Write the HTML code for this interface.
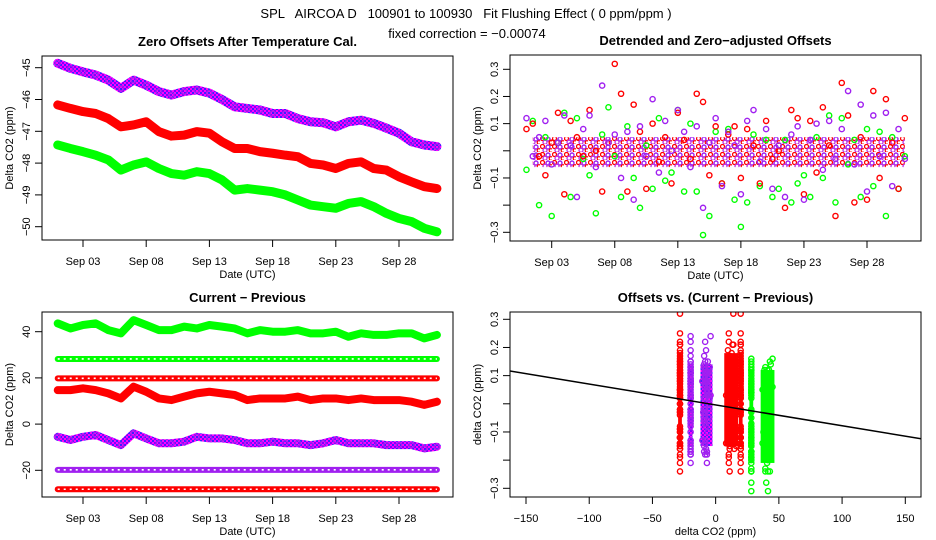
<!DOCTYPE html>
<html><head><meta charset="utf-8"><style>
html,body{margin:0;padding:0;background:#fff;}
svg{display:block;font-family:"Liberation Sans",sans-serif;}
</style></head><body>
<svg id="c" width="936" height="540" viewBox="0 0 936 540" xmlns="http://www.w3.org/2000/svg">
<defs>
<pattern id="pat-red" width="5" height="5" patternUnits="userSpaceOnUse"><rect width="5" height="5" fill="#fff"/><circle cx="2.5" cy="2.5" r="1.9" fill="none" stroke="#ff0000" stroke-width="1.3"/></pattern>
<pattern id="pat-green" width="5" height="5" patternUnits="userSpaceOnUse"><rect width="5" height="5" fill="#fff"/><circle cx="2.5" cy="2.5" r="1.9" fill="none" stroke="#00ff00" stroke-width="1.3"/></pattern>
<pattern id="pat-purple" width="4" height="4" patternUnits="userSpaceOnUse"><rect width="4" height="4" fill="#ff00ff"/><rect width="2" height="2" fill="#4020ff"/><rect x="2" y="2" width="2" height="2" fill="#8000ff"/></pattern>
<pattern id="pat-mix" width="12" height="8" patternUnits="userSpaceOnUse"><rect width="12" height="8" fill="#fff"/><circle cx="2.5" cy="2.5" r="2" fill="none" stroke="#ff0000" stroke-width="1.3"/><circle cx="8" cy="3" r="2" fill="none" stroke="#a020f0" stroke-width="1.4"/><circle cx="5" cy="6.2" r="2" fill="none" stroke="#c030e0" stroke-width="1.3"/><circle cx="11" cy="6.5" r="1.8" fill="none" stroke="#ff0000" stroke-width="1.2"/></pattern>
</defs>
<text x="466" y="18" font-size="13" text-anchor="middle" xml:space="preserve">SPL   AIRCOA D   100901 to 100930   Fit Flushing Effect ( 0 ppm/ppm )</text>
<text x="467" y="38" font-size="13" text-anchor="middle">fixed correction = −0.00074</text>
</svg>
<script>
// ---------- data ----------
const days = [1,2,3,4,5,6,7,8,9,10,11,12,13,14,15,16,17,18,19,20,21,22,23,24,25,26,27,28,29,30,31];
const dateTicks = [3,8,13,18,23,28];
const dateTickLabels = ["Sep 03","Sep 08","Sep 13","Sep 18","Sep 23","Sep 28"];
// Panel 1: zero offsets
const zeroPurple = [-44.86,-45.02,-45.13,-45.23,-45.39,-45.65,-45.39,-45.55,-45.75,-45.86,-45.75,-45.70,-45.80,-46.00,-46.23,-46.28,-46.33,-46.44,-46.44,-46.60,-46.70,-46.73,-46.86,-46.70,-46.65,-46.75,-46.90,-47.06,-47.33,-47.43,-47.48];
const zeroRed = [-46.17,-46.28,-46.38,-46.44,-46.60,-46.86,-46.80,-46.70,-47.01,-47.15,-47.12,-47.01,-47.06,-47.33,-47.54,-47.54,-47.64,-47.69,-47.75,-47.80,-48.01,-48.06,-48.17,-48.01,-47.96,-48.17,-48.22,-48.43,-48.59,-48.74,-48.80];
const zeroGreen = [-47.43,-47.54,-47.64,-47.75,-47.90,-48.22,-48.06,-47.96,-48.17,-48.33,-48.38,-48.27,-48.33,-48.53,-48.85,-48.80,-48.85,-48.90,-49.00,-49.16,-49.32,-49.37,-49.42,-49.27,-49.21,-49.37,-49.58,-49.74,-49.84,-50.05,-50.16];
const p1YTicks = [-45,-46,-47,-48,-49,-50];
// Panel 3: current - previous
const cpGreen = [43.6,41.4,42.9,43.6,40.7,39.3,45.0,42.9,40.7,40.7,42.2,41.4,42.9,42.2,41.4,39.3,40.7,40.0,40.0,40.7,39.3,39.3,40.0,37.8,39.3,38.6,38.6,39.3,39.3,37.1,38.6];
const cpGreenConst = [28.2,28.2,28.2,28.2,28.2,28.2,28.2,28.2,28.2,28.2,28.2,28.2,28.2,28.2,28.2,28.2,28.2,28.2,28.2,28.2,28.2,28.2,28.2,28.2,28.2,28.2,28.2,28.2,28.2,28.2,28.2];
const cpRedConst = [19.8,19.8,19.8,19.8,19.8,19.8,19.8,19.8,19.8,19.8,19.8,19.8,19.8,19.8,19.8,19.8,19.8,19.8,19.8,19.8,19.8,19.8,19.8,19.8,19.8,19.8,19.8,19.8,19.8,19.8,19.8];
const cpRed = [14.7,14.7,15.5,14.7,13.3,11.1,16.2,14.0,11.1,10.4,11.9,13.3,14.0,13.3,12.6,10.4,11.1,11.1,11.1,11.9,10.4,11.1,11.1,10.4,11.1,10.4,10.4,10.4,9.7,8.3,9.7];
const cpPurple = [-5.5,-6.9,-5.5,-4.7,-6.9,-9.1,-4.0,-6.2,-8.3,-8.3,-7.6,-5.5,-6.2,-6.2,-6.9,-8.3,-8.3,-7.6,-8.3,-8.3,-9.1,-8.3,-6.9,-8.3,-8.3,-8.3,-9.1,-9.1,-9.1,-10.5,-9.8];
const cpPurpleConst = [-19.8,-19.8,-19.8,-19.8,-19.8,-19.8,-19.8,-19.8,-19.8,-19.8,-19.8,-19.8,-19.8,-19.8,-19.8,-19.8,-19.8,-19.8,-19.8,-19.8,-19.8,-19.8,-19.8,-19.8,-19.8,-19.8,-19.8,-19.8,-19.8,-19.8,-19.8];
const cpRedLow = [-28.2,-28.2,-28.2,-28.2,-28.2,-28.2,-28.2,-28.2,-28.2,-28.2,-28.2,-28.2,-28.2,-28.2,-28.2,-28.2,-28.2,-28.2,-28.2,-28.2,-28.2,-28.2,-28.2,-28.2,-28.2,-28.2,-28.2,-28.2,-28.2,-28.2,-28.2];
const p3YTicks = [-20,0,20,40];
// Panel 2: detrended (half-day samples from Sep 1)
const halfDays = [1,1.5,2,2.5,3,3.5,4,4.5,5,5.5,6,6.5,7,7.5,8,8.5,9,9.5,10,10.5,11,11.5,12,12.5,13,13.5,14,14.5,15,15.5,16,16.5,17,17.5,18,18.5,19,19.5,20,20.5,21,21.5,22,22.5,23,23.5,24,24.5,25,25.5,26,26.5,27,27.5,28,28.5,29,29.5,30,30.5,31];
const detRed = [0.08,0.10,-0.02,-0.09,0.03,0.14,-0.16,0.11,0.05,-0.02,0.15,0.0,-0.15,0.03,0.32,0.21,-0.15,0.17,0.07,-0.14,0.10,-0.04,0.05,-0.12,0.14,0.04,-0.03,0.21,0.18,-0.09,0.09,-0.12,0.06,0.09,-0.10,0.08,0.02,-0.12,0.11,-0.03,0.00,-0.21,0.15,0.12,-0.16,0.11,-0.08,0.16,0.02,-0.24,0.25,0.13,-0.19,0.05,-0.18,0.22,-0.10,0.19,0.03,-0.14,0.12];
const detPurple = [0.12,-0.02,0.05,0.11,-0.05,0.03,0.13,0.02,-0.17,0.08,0.13,-0.06,0.24,0.03,0.06,-0.10,0.07,-0.18,0.09,-0.02,0.19,-0.08,0.11,0.0,0.15,0.07,-0.06,0.09,-0.21,0.03,0.12,-0.13,0.07,0.02,-0.16,0.11,0.15,-0.04,0.08,-0.14,0.02,-0.17,0.06,0.09,-0.18,0.04,0.10,-0.07,0.11,-0.03,0.08,0.22,-0.05,0.17,-0.15,0.13,-0.02,0.14,-0.13,0.08,-0.03];
const detGreen = [-0.07,0.11,-0.20,0.05,-0.24,0.03,0.14,-0.17,0.12,-0.03,-0.09,-0.23,0.06,0.16,-0.02,-0.17,0.09,-0.10,-0.21,0.02,-0.14,0.12,-0.11,-0.08,0.15,-0.15,0.10,-0.15,-0.31,-0.24,0.07,-0.12,0.08,-0.18,-0.28,-0.19,0.06,-0.13,0.04,-0.17,-0.14,0.04,-0.19,-0.12,-0.09,-0.17,0.05,-0.10,0.13,-0.19,0.12,-0.05,0.04,-0.17,0.08,-0.13,0.07,-0.24,0.05,-0.14,-0.02];
const detYTicks = [-0.3,-0.2,-0.1,0,0.1,0.2,0.3];
const detYTickLabels = ["-0.3","","-0.1","","0.1","0.2","0.3"];
// Panel 4
const p4XTicks = [-150,-100,-50,0,50,100,150];
const fitSlope = -0.00074;
const fitIntercept = -0.004;
const fitRange = [-170,170];

// ---------- drawing ----------
const NS = "http://www.w3.org/2000/svg";
const svg = document.getElementById("c");
const RED="#ff0000", GREEN="#00ff00", PURPLE="#a020f0";
function el(tag, attrs, parent){const e=document.createElementNS(NS,tag);for(const k in attrs)e.setAttribute(k,attrs[k]);(parent||svg).appendChild(e);return e;}
function lin(d0,d1,r0,r1){return v=>r0+(v-d0)*(r1-r0)/(d1-d0);}
function quant(a,q){const s=[...a].sort((x,y)=>x-y);return s[Math.round(q*(s.length-1))];}

function panel(box,name,title,xlab,ylab){
  const g=el("g",{});
  
  
  const clip=el("clipPath",{id:name+"-clip"},g);
  el("rect",{x:box.l,y:box.t,width:box.r-box.l,height:box.b-box.t},clip);
  const data=el("g",{"clip-path":`url(#${name}-clip)`},g);
  
  
  const r=el("rect",{x:box.l,y:box.t,width:box.r-box.l,height:box.b-box.t,fill:"none",stroke:"#000","stroke-width":1},g);
  
  
  const t=el("text",{x:(box.l+box.r)/2,y:box.t-10,"font-size":13,"font-weight":"bold","text-anchor":"middle"},g);
  t.textContent=title;
  
  
  const xl=el("text",{x:(box.l+box.r)/2,y:box.b+38,"font-size":11,"text-anchor":"middle"},g);
  xl.textContent=xlab;
  
  
  const cy=(box.t+box.b)/2;
  const yl=el("text",{x:0,y:0,"font-size":11,"text-anchor":"middle",transform:`translate(${box.l-29},${cy}) rotate(-90)`},g);
  yl.textContent=ylab;
  
  
  return {g,data};
}
function xAxis(g,box,sx,ticks,labels){
  ticks.forEach((v,i)=>{
    const x=sx(v);
    const tk=el("line",{x1:x,x2:x,y1:box.b,y2:box.b+7,stroke:"#000"},g);
    
    
    const t=el("text",{x:x,y:box.b+25,"font-size":11,"text-anchor":"middle"},g);
    t.textContent=labels[i];
    
    
  });
}
function yAxis(g,box,sy,ticks,labels){
  ticks.forEach((v,i)=>{
    const y=sy(v);
    const tk=el("line",{x1:box.l-7,x2:box.l,y1:y,y2:y,stroke:"#000"},g);
    
    
    if(labels[i]==="")return;
    const t=el("text",{x:0,y:0,"font-size":11,"text-anchor":"middle",transform:`translate(${box.l-12},${y}) rotate(-90)`},g);
    t.textContent=labels[i].replace("-","−");
    
    
  });
}
function band(g,xs,ys,sx,sy,color,w,name){
  const pts=xs.map((x,i)=>sx(x)+","+sy(ys[i])).join(" ");
  const pl=el("polyline",{points:pts,fill:"none",stroke:color,"stroke-width":w,"stroke-linejoin":"round","stroke-linecap":"round"},g);
  
  
}
function dots(g,xs,ys,sx,sy,color,name){
  xs.forEach((x,i)=>{
    const c=el("circle",{cx:sx(x),cy:sy(ys[i]),r:2.6,fill:"none",stroke:color,"stroke-width":1.4},g);
    
    
  });
}
function chain(g,xs,ys,sx,sy,color,name){
  band(g,xs,ys,sx,sy,color,6,name);
  const pts=xs.map((x,i)=>sx(x)+","+sy(ys[i])).join(" ");
  const pl=el("polyline",{points:pts,fill:"none",stroke:"#fff","stroke-width":1.6,"stroke-dasharray":"2 4"},g);
  
  
}
const labs=a=>a.map(String);

// Panel 1
{
  const box={l:42,r:453,t:56,b:240};
  const sx=lin(3,28,83,399), sy=lin(-45,-50,67.7,226.7);
  const p=panel(box,"zero-offsets-panel","Zero Offsets After Temperature Cal.","Date (UTC)","Delta CO2 (ppm)");
  xAxis(p.g,box,sx,dateTicks,dateTickLabels);
  yAxis(p.g,box,sy,p1YTicks,labs(p1YTicks));
  [[zeroPurple,"url(#pat-purple)",PURPLE,"purple"],[zeroRed,RED,RED,"red"],[zeroGreen,GREEN,GREEN,"green"]].forEach(([d,c,c2,n])=>{
    band(p.data,days,d,sx,sy,c,9,"zero-offset-band-"+n);
    dots(p.data,days,d,sx,sy,c2,"zero-offset-point-"+n);
  });
}
// Panel 3
{
  const box={l:42,r:453,t:312,b:497};
  const sx=lin(3,28,83,399), sy=lin(40,-20,331.7,470.3);
  const p=panel(box,"current-previous-panel","Current − Previous","Date (UTC)","Delta CO2 (ppm)");
  xAxis(p.g,box,sx,dateTicks,dateTickLabels);
  yAxis(p.g,box,sy,p3YTicks,labs(p3YTicks));
  [[cpGreen,GREEN,GREEN,"green"],[cpRed,RED,RED,"red"],[cpPurple,"url(#pat-purple)",PURPLE,"purple"]].forEach(([d,c,c2,n])=>{
    band(p.data,days,d,sx,sy,c,8,"cp-band-"+n);
    dots(p.data,days,d,sx,sy,c2,"cp-point-"+n);
  });
  [[cpGreenConst,GREEN,"green-const"],[cpRedConst,RED,"red-const"],[cpPurpleConst,PURPLE,"purple-const"],[cpRedLow,RED,"red-low-const"]].forEach(([d,c,n])=>{
    chain(p.data,days,d,sx,sy,c,"cp-row-"+n);
  });
}
// Panel 2
{
  const box={l:510,r:921,t:55,b:241};
  const sx=lin(3,28,551.7,867), sy=lin(0.3,-0.3,69.3,232.3);
  const p=panel(box,"detrended-panel","Detrended and Zero−adjusted Offsets","Date (UTC)","Delta CO2 (ppm)");
  xAxis(p.g,box,sx,dateTicks,dateTickLabels);
  yAxis(p.g,box,sy,detYTicks,detYTickLabels);
  const core=el("rect",{x:sx(1.5),y:sy(0.05),width:sx(31)-sx(1.5),height:sy(-0.06)-sy(0.05),fill:"url(#pat-mix)"},p.data);
  
  
  dots(p.data,halfDays,detGreen,sx,sy,GREEN,"detrended-point-green");
  dots(p.data,halfDays,detRed,sx,sy,RED,"detrended-point-red");
  dots(p.data,halfDays,detPurple,sx,sy,PURPLE,"detrended-point-purple");
}
// Panel 4
{
  const box={l:510,r:921,t:312,b:497};
  const sx=lin(-150,150,526,905.3), sy=lin(0.3,-0.3,319.3,488.3);
  const p=panel(box,"offsets-vs-diff-panel","Offsets vs. (Current − Previous)","delta CO2 (ppm)","delta CO2 (ppm)");
  xAxis(p.g,box,sx,p4XTicks,labs(p4XTicks).map(s=>s.replace("-","−")));
  yAxis(p.g,box,sy,detYTicks,detYTickLabels);
  const pairs=[[detGreen,[cpGreen,cpGreenConst],GREEN,"green"],[detPurple,[cpPurple,cpPurpleConst],PURPLE,"purple"],[detRed,[cpRed,cpRedConst,cpRedLow],RED,"red"]];
  pairs.forEach(([dy,series,c,n])=>{
    const fill = n==="purple" ? "url(#pat-purple)" : c;
    series.forEach(s=>{
      const x0=sx(Math.min(...s)-1.5), x1=sx(Math.max(...s)+1.5);
      const y0=sy(quant(dy,0.9)), y1=sy(quant(dy,0.1));
      const blob=el("rect",{x:x0,y:y0,width:x1-x0,height:y1-y0,fill:fill},p.data);
      
      
      const xs=halfDays.map((h,i)=>s[Math.min(s.length-1,Math.floor(i/2))]);
      dots(p.data,xs,dy,sx,sy,c,"scatter-point-"+n);
    });
  });
  const ln=el("line",{x1:sx(fitRange[0]),y1:sy(fitIntercept+fitSlope*fitRange[0]),x2:sx(fitRange[1]),y2:sy(fitIntercept+fitSlope*fitRange[1]),stroke:"#000","stroke-width":1.5},p.data);
  
  
}
</script>
</body></html>
